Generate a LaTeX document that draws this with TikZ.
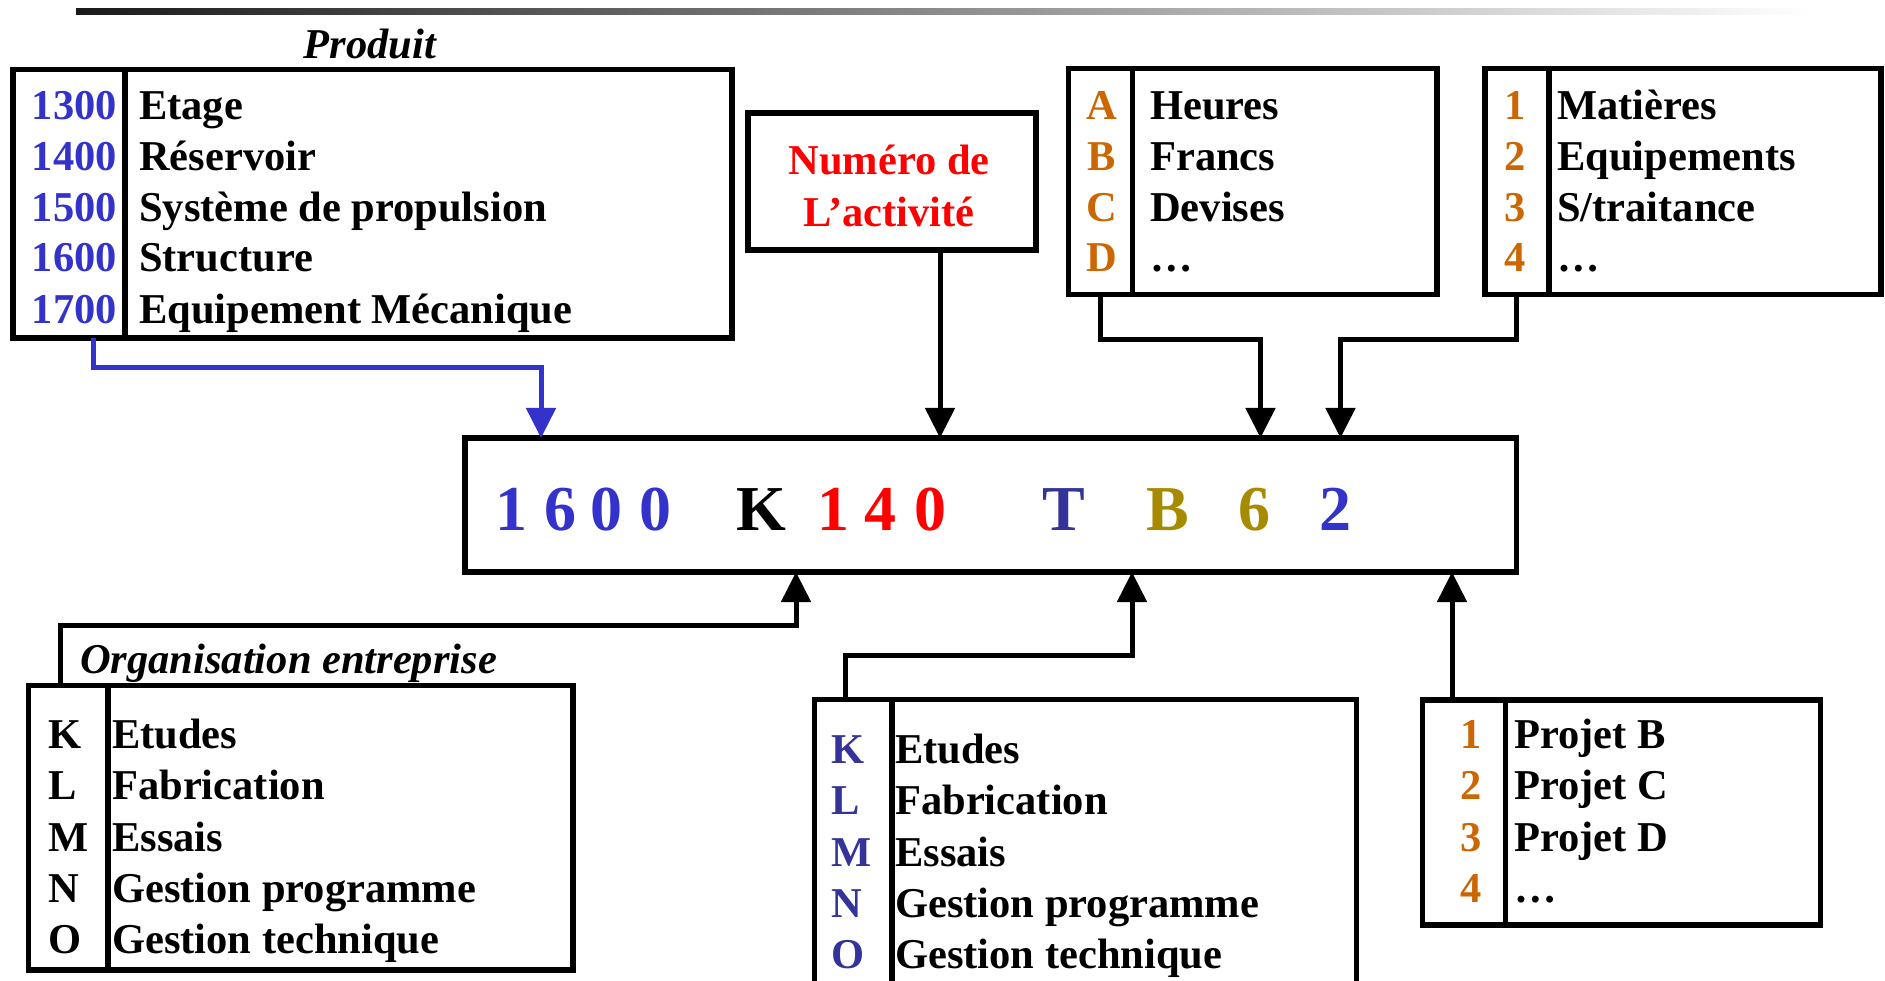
\documentclass[tikz,border=0pt]{standalone}
\usepackage{fontspec}
\setmainfont{Liberation Serif}
\usetikzlibrary{arrows.meta}
\definecolor{cblue}{HTML}{3333CC}
\definecolor{cnavy}{HTML}{333399}
\definecolor{corange}{HTML}{CC6600}
\definecolor{cred}{HTML}{FF0000}
\definecolor{colive}{HTML}{A68A00}
\begin{document}
\begin{tikzpicture}[x=1pt,y=-1pt,
  box/.style={draw, line width=5.5pt, inner sep=0pt, outer sep=0pt, rectangle},
  divl/.style={line width=5.5pt},
  conn/.style={line width=5pt, line join=miter, -{Triangle[width=29pt,length=30pt]}},
  txt/.style={font=\fontsize{42.5}{51}\selectfont\bfseries, inner sep=0pt, anchor=base west},
  num/.style={txt, anchor=base east},
  ctr/.style={txt, anchor=base},
  big/.style={font=\fontsize{64}{70}\selectfont\bfseries, inner sep=0pt, anchor=base},
]
\useasboundingbox (0,0) rectangle (1885,981);
\clip (0,0) rectangle (1885,981);
% top gradient rule
\shade[left color=black!90, right color=white] (76,8.5) rectangle (1810,14.5);

% ---------- Produit box ----------
\node[txt, anchor=base, font=\fontsize{42.5}{51}\selectfont\bfseries\itshape] (prodlbl) at (370,59) {Produit};
\node[box, minimum width=719pt, minimum height=268.5pt] (P) at (372.5,203.75) {};
\coordinate (pdx) at (125,0);
\draw[divl] (P.north -| pdx) -- (P.south -| pdx);
\foreach \n/\t/\y [count=\i] in {1300/Etage/120, 1400/Réservoir/171, 1500/Système de propulsion/222, 1600/Structure/272, 1700/Equipement Mécanique/324}{
  \node[num, text=cblue] (pn\i) at (117,\y) {\n};
  \node[txt] (pt\i) at (139,\y) {\t};
}

% ---------- Numero box ----------
\node[box, minimum width=288pt, minimum height=137pt] (N) at (892,181.5) {};
\node[ctr, text=cred] (nt1) at (889,175) {Numéro de};
\node[ctr, text=cred] (nt2) at (889,227) {L’activité};

% ---------- ABCD box ----------
\node[box, minimum width=368.5pt, minimum height=226pt] (A) at (1252.75,181.5) {};
\coordinate (adx) at (1132.5,0);
\draw[divl] (A.north -| adx) -- (A.south -| adx);
\foreach \n/\t/\y [count=\i] in {A/Heures/120, B/Francs/171, C/Devises/222, D/…/272}{
  \node[ctr, text=corange] (an\i) at (1102,\y) {\n};
  \node[txt] (at\i) at (1150,\y) {\t};
}

% ---------- 1234 box (top) ----------
\node[box, minimum width=396pt, minimum height=226pt] (Q) at (1683,181.5) {};
\coordinate (qdx) at (1549,0);
\draw[divl] (Q.north -| qdx) -- (Q.south -| qdx);
\node[ctr, text=corange] (qn1) at (1515,120) {1};
\node[ctr, text=corange] (qn2) at (1515,171) {2};
\node[ctr, text=corange] (qn3) at (1515,222) {3};
\node[ctr, text=corange] (qn4) at (1515,272) {4};
\node[txt] (qt1) at (1557,120) {Matières};
\node[txt] (qt2) at (1557,171) {Equipements};
\node[txt] (qt3) at (1557,222) {S/traitance};
\node[txt] (qt4) at (1557,272) {…};

% ---------- central code box ----------
\node[box, minimum width=1051.5pt, minimum height=134pt] (C) at (990.75,505) {};
\node[big, text=cblue] (c1) at (511,530) {1};
\node[big, text=cblue] (c2) at (560,530) {6};
\node[big, text=cblue] (c3) at (606,530) {0};
\node[big, text=cblue] (c4) at (655,530) {0};
\node[big] (c5) at (761.5,530) {K};
\node[big, text=cred] (c6) at (833,530) {1};
\node[big, text=cred] (c7) at (880,530) {4};
\node[big, text=cred] (c8) at (930.5,530) {0};
\node[big, text=cnavy] (c9) at (1064,530) {T};
\node[big, text=colive] (c10) at (1168,530) {B};
\node[big, text=colive] (c11) at (1254,530) {6};
\node[big, text=cblue] (c12) at (1335,530) {2};

% ---------- Organisation box ----------
\node[txt, font=\fontsize{42.5}{51}\selectfont\bfseries\itshape] (orglbl) at (80,673) {Organisation entreprise};
\node[box, minimum width=544.5pt, minimum height=284.5pt] (O) at (300.75,827.75) {};
\coordinate (odx) at (108,0);
\draw[divl] (O.north -| odx) -- (O.south -| odx);
\foreach \n/\t/\y [count=\i] in {K/Etudes/748, L/Fabrication/799.5, M/Essais/851, N/Gestion programme/902, O/Gestion technique/953}{
  \node[txt] (on\i) at (48,\y) {\n};
  \node[txt] (ot\i) at (112,\y) {\t};
}

% ---------- middle bottom box ----------
\node[box, minimum width=542pt, minimum height=320pt] (M) at (1085.5,859.5) {};
\coordinate (mdx) at (892,0);
\draw[divl] (M.north -| mdx) -- (M.south -| mdx);
\foreach \n/\t/\y [count=\i] in {K/Etudes/763, L/Fabrication/814, M/Essais/866, N/Gestion programme/917, O/Gestion technique/968}{
  \node[txt, text=cnavy] (mn\i) at (831,\y) {\n};
  \node[txt] (mt\i) at (895,\y) {\t};
}

% ---------- Projet box ----------
\node[box, minimum width=398pt, minimum height=225pt] (R) at (1621.5,812.5) {};
\coordinate (rdx) at (1505.5,0);
\draw[divl] (R.north -| rdx) -- (R.south -| rdx);
\foreach \n/\t/\y [count=\i] in {1/Projet B/748, 2/Projet C/799, 3/Projet D/851, 4/…/902}{
  \node[ctr, text=corange] (rn\i) at (1471,\y) {\n};
  \node[txt] (rt\i) at (1514,\y) {\t};
}

% ---------- connectors ----------
\coordinate (bx) at (93,368);
\coordinate (bp) at (541,368);
\draw[conn, cblue] (P.south -| bx) -- (bx) -- (bp) -- (C.north -| bp);

\coordinate (nx) at (940,0);
\draw[conn] (N.south -| nx) -- (C.north -| nx);

\coordinate (ax) at (1100.5,339.5);
\coordinate (ap) at (1260.5,339.5);
\draw[conn] (A.south -| ax) -- (ax) -- (ap) -- (C.north -| ap);

\coordinate (qx) at (1516,339.5);
\coordinate (qp) at (1340.5,339.5);
\draw[conn] (Q.south -| qx) -- (qx) -- (qp) -- (C.north -| qp);

\coordinate (ox) at (60.5,625.5);
\coordinate (op) at (796,625.5);
\draw[conn] (O.north -| ox) -- (ox) -- (op) -- (C.south -| op);

\coordinate (mx) at (845.5,655);
\coordinate (mp) at (1132,655);
\draw[conn] (M.north -| mx) -- (mx) -- (mp) -- (C.south -| mp);

\coordinate (rx) at (1452,0);
\draw[conn] (R.north -| rx) -- (C.south -| rx);
\end{tikzpicture}
\end{document}
